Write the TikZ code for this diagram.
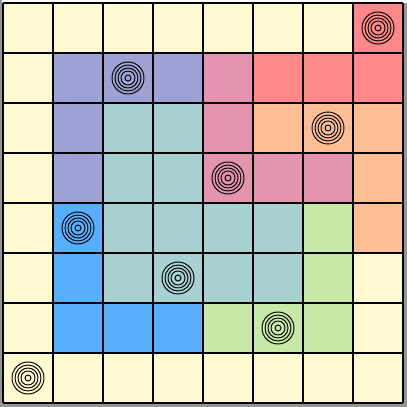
\documentclass[tikz,border=0pt]{standalone}
\usepackage{tikz}
\usetikzlibrary{positioning}
\definecolor{pcream}{RGB}{255,249,209}
\definecolor{plav}{RGB}{157,161,212}
\definecolor{pteal}{RGB}{168,210,210}
\definecolor{ppink}{RGB}{228,147,176}
\definecolor{pred}{RGB}{255,136,136}
\definecolor{ppeach}{RGB}{255,191,150}
\definecolor{pblue}{RGB}{88,175,255}
\definecolor{pgreen}{RGB}{200,234,168}
\definecolor{pshade}{RGB}{150,150,150}
\tikzset{
  gridln/.style={black, line width=1.4pt},
  ring/.style={black, line width=0.55pt},
  shade/.style={fill=pshade},
}
% one row of cells, #1 = row from the top, #2 = colours from the left
\newcommand{\cellrow}[2]{%
  \foreach \cc [count=\ci from 0] in {#2}
    \fill[\cc] (\ci,7-#1) rectangle ++(1,1);}
% concentric rings in the cell at column #1, row #2 (from the top)
\newcommand{\rings}[2]{%
  \foreach \rr in {0.06,0.14,0.2,0.26,0.32}
    \draw[ring] (#1+0.5,7.5-#2) circle (\rr);}

\begin{document}
\begin{tikzpicture}
    \useasboundingbox (-0.06,-0.08) rectangle (8.08,8.06);
    \fill[white] (-0.06,-0.08) rectangle (8.08,8.06);
    \fill[shade] (-0.06,-0.08) rectangle (-0.02,8.06);
    \fill[shade] (-0.06,-0.08) rectangle (8.08,0);
    \fill[shade] (8,-0.08) rectangle (8.08,8.0);
    \cellrow{0}{pcream,pcream,pcream,pcream,pcream,pcream,pcream,pred}
    \cellrow{1}{pcream,plav,plav,plav,ppink,pred,pred,pred}
    \cellrow{2}{pcream,plav,pteal,pteal,ppink,ppeach,ppeach,ppeach}
    \cellrow{3}{pcream,plav,pteal,pteal,ppink,ppink,ppink,ppeach}
    \cellrow{4}{pcream,pblue,pteal,pteal,pteal,pteal,pgreen,ppeach}
    \cellrow{5}{pcream,pblue,pteal,pteal,pteal,pteal,pgreen,pcream}
    \cellrow{6}{pcream,pblue,pblue,pblue,pgreen,pgreen,pgreen,pcream}
    \cellrow{7}{pcream,pcream,pcream,pcream,pcream,pcream,pcream,pcream}
    \draw[gridln] (0,0) grid (8,8);
    \rings{7}{0}
    \rings{2}{1}
    \rings{6}{2}
    \rings{4}{3}
    \rings{1}{4}
    \rings{3}{5}
    \rings{5}{6}
    \rings{0}{7}
\end{tikzpicture}
\end{document}
